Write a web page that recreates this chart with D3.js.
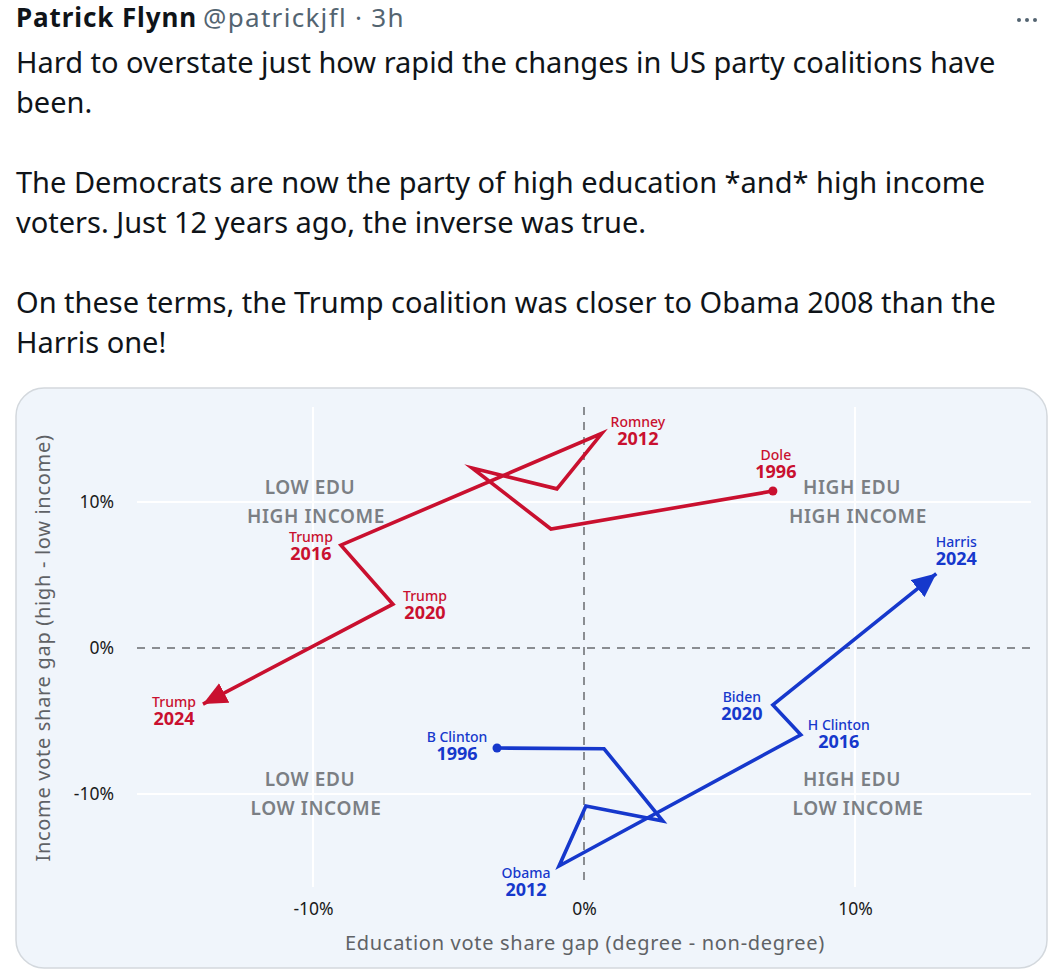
<!DOCTYPE html>
<html><head><meta charset="utf-8">
<script src="https://cdn.jsdelivr.net/npm/d3@7"></script>
<style>html,body{margin:0;padding:0;background:#fff;}svg{display:block}</style>
</head><body>
<svg id="chart" width="1050" height="970"></svg>
<script>
// ---- data ----
const years = [1996, 2000, 2004, 2008, 2012, 2016, 2020, 2024];
const repNames = ["Dole", "", "", "", "Romney", "Trump", "Trump", "Trump"];
const repEdu = [6.97, -1.22, -4.13, -1.0, 0.66, -8.97, -7.05, -14.06];
const repInc = [10.75, 8.15, 12.33, 10.9, 14.7, 7.05, 3.0, -3.84];
const demNames = ["B Clinton", "", "", "", "Obama", "H Clinton", "Biden", "Harris"];
const demEdu = [-3.21, 0.74, 2.91, 0.07, -0.92, 8.0, 6.97, 13.0];
const demInc = [-6.85, -6.9, -11.85, -10.82, -14.93, -5.94, -3.9, 5.1];
const xTicks = [-10, 0, 10];
const yTicks = [-10, 0, 10];
const quadrants = [["LOW EDU", "HIGH INCOME", -10, 10], ["HIGH EDU", "HIGH INCOME", 10, 10],
                   ["LOW EDU", "LOW INCOME", -10, -10], ["HIGH EDU", "LOW INCOME", 10, -10]];
const tweetName = "Patrick Flynn";
const tweetHandle = "@patrickjfl · 3h";
const tweetLines = [
  "Hard to overstate just how rapid the changes in US party coalitions have",
  "been.",
  "",
  "The Democrats are now the party of high education *and* high income",
  "voters. Just 12 years ago, the inverse was true.",
  "",
  "On these terms, the Trump coalition was closer to Obama 2008 than the",
  "Harris one!"
];
const xTitle = "Education vote share gap (degree - non-degree)";
const yTitle = "Income vote share gap (high - low income)";

// ---- layout ----
const RED = "#c9102f", BLUE = "#1638cc";
const svg = d3.select("#chart");
const x = d3.scaleLinear().domain([-10, 10]).range([313, 855]);
const y = d3.scaleLinear().domain([-10, 10]).range([794, 502]);

// tweet
const tf = "'Noto Sans', 'Open Sans', sans-serif";
const head = svg.append("text").attr("x", 16).attr("y", 27).attr("font-family", tf).attr("font-size", 26);
head.append("tspan").attr("font-weight", "bold").attr("fill", "#0f1419").attr("letter-spacing", 0.9).text(tweetName);
head.append("tspan").attr("fill", "#536471").attr("dx", 6).attr("letter-spacing", 1.3).text(tweetHandle);
// "more" dots
svg.selectAll("circle.more").data([0, 1, 2]).join("circle").attr("class", "more")
  .attr("cx", d => 1019 + d * 8).attr("cy", 20).attr("r", 2).attr("fill", "#536471");
svg.selectAll("text.body").data(tweetLines).join("text").attr("class", "body")
  .attr("x", 16).attr("y", (d, i) => 73 + i * 40).attr("font-family", tf).attr("font-size", 29)
  .attr("fill", "#0f1419").text(d => d);

// panel
svg.append("rect").attr("x", 16).attr("y", 388).attr("width", 1031).attr("height", 580)
  .attr("rx", 28).attr("fill", "#f0f5fb").attr("stroke", "#d3d8dd").attr("stroke-width", 1.5);

const cf = "'Noto Sans', 'Open Sans', sans-serif";
const g = svg.append("g");
// grid (white solid at +-10)
g.selectAll("line.gx").data(xTicks.filter(d => d !== 0)).join("line").attr("class", "gx")
  .attr("x1", d => x(d)).attr("x2", d => x(d)).attr("y1", 407).attr("y2", 887)
  .attr("stroke", "#fff").attr("stroke-width", 2);
g.selectAll("line.gy").data(yTicks.filter(d => d !== 0)).join("line").attr("class", "gy")
  .attr("y1", d => y(d)).attr("y2", d => y(d)).attr("x1", 137).attr("x2", 1031)
  .attr("stroke", "#fff").attr("stroke-width", 2);
// zero lines dashed
g.append("line").attr("x1", x(0)).attr("x2", x(0)).attr("y1", 407).attr("y2", 887)
  .attr("stroke", "#8a8d91").attr("stroke-width", 2).attr("stroke-dasharray", "8,7");
g.append("line").attr("y1", y(0)).attr("y2", y(0)).attr("x1", 137).attr("x2", 1031)
  .attr("stroke", "#8a8d91").attr("stroke-width", 2).attr("stroke-dasharray", "8,7");

// quadrant labels
quadrants.forEach(q => {
  const cx = x(q[2]);
  const cy = y(q[3]);
  g.append("text").attr("x", cx - 3).attr("y", cy - 8).attr("text-anchor", "middle")
    .attr("font-family", cf).attr("font-size", 19).attr("font-weight", 600).attr("letter-spacing", 0.6)
    .attr("fill", "#7b7f84").text(q[0]);
  g.append("text").attr("x", cx + 3).attr("y", cy + 21).attr("text-anchor", "middle")
    .attr("font-family", cf).attr("font-size", 19).attr("font-weight", 600).attr("letter-spacing", 0.6)
    .attr("fill", "#7b7f84").text(q[1]);
});

// axes (tick labels only)
const fmt = d => d + "%";
const xAxis = g.append("g").attr("transform", "translate(0,909)")
  .call(d3.axisBottom(x).tickValues(xTicks).tickFormat(fmt).tickSize(0).tickPadding(0));
xAxis.select(".domain").remove();
xAxis.selectAll("text").attr("font-family", cf).attr("font-size", 17.5).attr("fill", "#1a1a1a").attr("dy", "0.35em");
const yAxis = g.append("g").attr("transform", "translate(114,0)")
  .call(d3.axisLeft(y).tickValues(yTicks).tickFormat(fmt).tickSize(0).tickPadding(0));
yAxis.select(".domain").remove();
yAxis.selectAll("text").attr("font-family", cf).attr("font-size", 17.5).attr("fill", "#1a1a1a");

g.append("text").attr("x", 585).attr("y", 950).attr("text-anchor", "middle").attr("font-family", cf)
  .attr("font-size", 20).attr("letter-spacing", 0.7).attr("fill", "#5f6266").text(xTitle);
g.append("text").attr("transform", "translate(50,648) rotate(-90)").attr("text-anchor", "middle")
  .attr("font-family", cf).attr("font-size", 20).attr("letter-spacing", 0.7).attr("fill", "#5f6266").text(yTitle);

// arrow markers
const defs = svg.append("defs");
[["arrR", RED], ["arrB", BLUE]].forEach(([id, c]) => {
  defs.append("marker").attr("id", id).attr("viewBox", "0 0 24 22").attr("refX", 24).attr("refY", 11)
    .attr("markerWidth", 24).attr("markerHeight", 22).attr("markerUnits", "userSpaceOnUse")
    .attr("orient", "auto").append("path").attr("d", "M0,0 L24,11 L0,22 Z").attr("fill", c);
});

function series(edu, inc, names, color, marker, offs) {
  const pts = edu.map((e, i) => ({ e, v: inc[i], yr: years[i], name: names[i], o: offs[i] }));
  g.append("path").datum(pts).attr("fill", "none").attr("stroke", color).attr("stroke-width", 3.6)
    .attr("stroke-linejoin", "miter").attr("stroke-miterlimit", 10)
    .attr("d", d3.line().x(d => x(d.e)).y(d => y(d.v))).attr("marker-end", `url(#${marker})`);
  g.append("circle").attr("cx", x(pts[0].e)).attr("cy", y(pts[0].v)).attr("r", 4.5).attr("fill", color);
  pts.filter(d => d.name).forEach(d => {
    const px = x(d.e) + d.o[0], py = y(d.v) + d.o[1];
    g.append("text").attr("x", px).attr("y", py).attr("text-anchor", "middle").attr("font-family", cf)
      .attr("font-size", 14).attr("font-weight", 500).attr("fill", color).text(d.name);
    g.append("text").attr("x", px).attr("y", py + 18).attr("text-anchor", "middle").attr("font-family", cf)
      .attr("font-size", 18).attr("font-weight", 700).attr("fill", color).text(d.yr);
  });
}
// label offsets (dx, baseline dy of name)
const repOffs = [[3, -31], null, null, null, [36, -6], [-30, -3], [32, -3], [-29, 3]];
const demOffs = [[-40, -6], null, null, null, [-33, 12], [38, -5], [-31, -3], [20, -27]];
series(repEdu, repInc, repNames, RED, "arrR", repOffs);
series(demEdu, demInc, demNames, BLUE, "arrB", demOffs);
</script>
</body></html>
